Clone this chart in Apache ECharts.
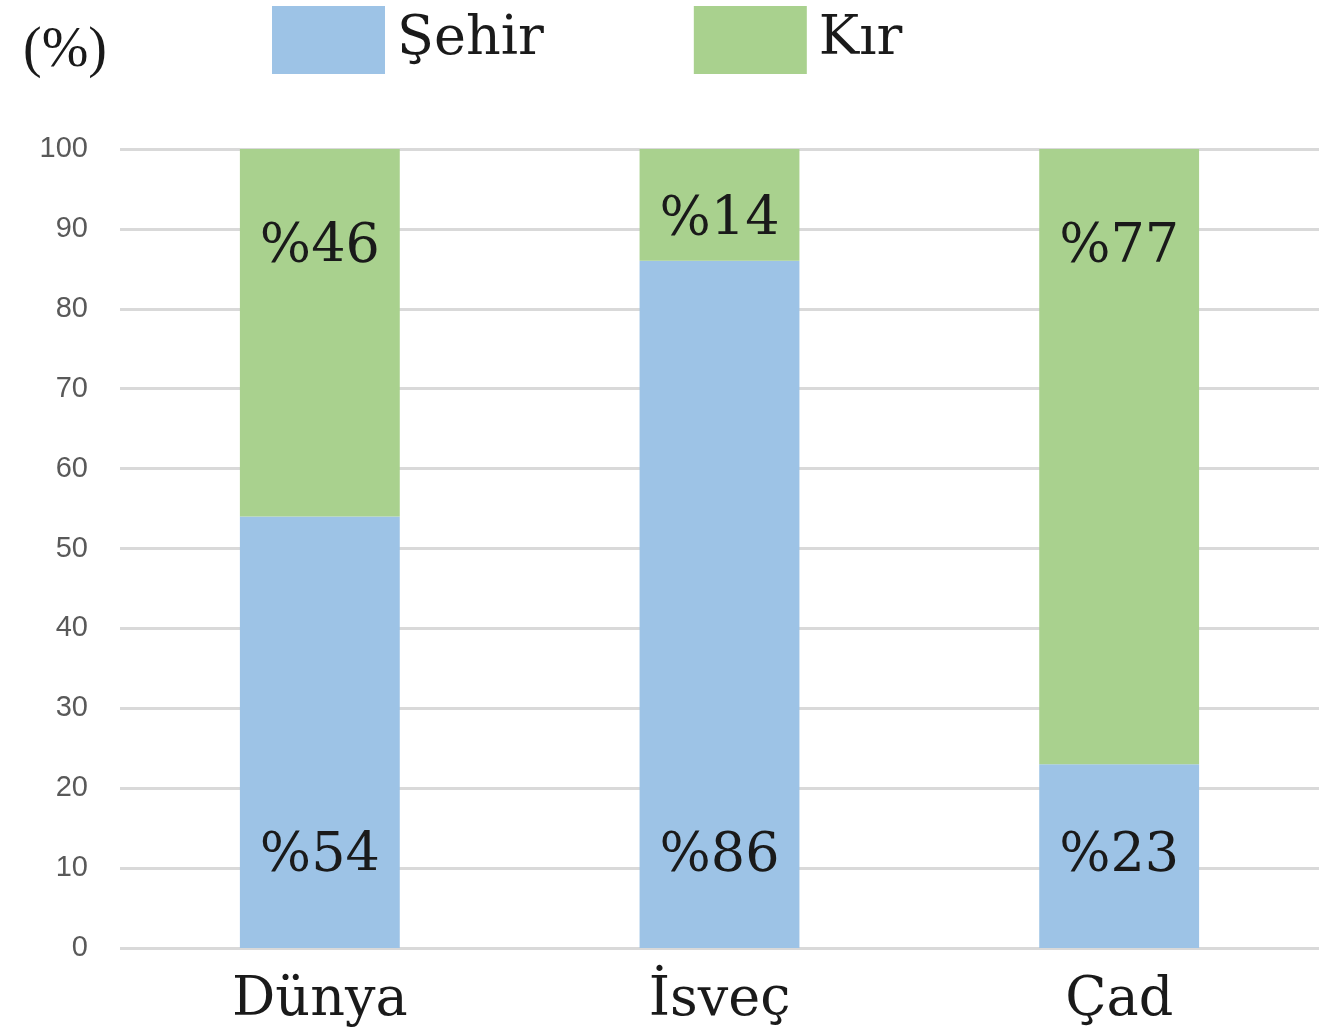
<!DOCTYPE html>
<html>
<head>
<meta charset="utf-8">
<script src="https://cdn.jsdelivr.net/npm/echarts@6/dist/echarts.min.js"></script>
<style>
    html,body{margin:0;padding:0;background:#fff;}
    #chart{width:1319px;height:1035px;}
</style>
</head>
<body>
<div id="chart"></div>
<script>
    // veriler
    var categories = ['Dünya', 'İsveç', 'Çad'];
    var sehir = [54, 86, 23];
    var kir = [46, 14, 77];
    var yTicks = [0, 10, 20, 30, 40, 50, 60, 70, 80, 90, 100];

    var serif = 'DejaVu Serif';
    var blue = '#9dc3e6', green = '#a9d18e';

    var chart = echarts.init(document.getElementById('chart'));

    // kır etiketleri: küçük dilimlerde ortala
    var kirData = kir.map(function(v){
        return {
            value: v,
            label: v < 20 ? {position: 'inside', offset: [0, 16]} : {position: 'insideTop', distance: 72}
        };
    });

    chart.setOption({
        animation: false,
        title: {
            text: '(%)',
            left: 18,
            top: 18,
            textStyle: {fontFamily: 'Liberation Serif', fontSize: 56, fontWeight: 'normal', color: '#1a1a1a'}
        },
        legend: {
            left: 267,
            top: 1,
            itemWidth: 113,
            itemHeight: 68,
            itemGap: 150,
            icon: 'rect',
            textStyle: {fontFamily: serif, fontSize: 54, color: '#1a1a1a', padding: [0, 0, 0, 7]},
            data: ['Şehir', 'Kır']
        },
        grid: {left: 120, right: 0, top: 149, bottom: 87, containLabel: false},
        xAxis: {
            type: 'category',
            data: categories,
            axisLine: {show: false},
            axisTick: {show: false},
            axisLabel: {fontFamily: serif, fontSize: 54, color: '#1a1a1a', margin: 26}
        },
        yAxis: {
            type: 'value',
            min: yTicks[0],
            max: yTicks[yTicks.length - 1],
            interval: 10,
            axisLine: {show: false},
            axisTick: {show: false},
            axisLabel: {fontFamily: 'Liberation Sans', fontSize: 29, color: '#595959', margin: 32},
            splitLine: {lineStyle: {color: '#d9d9d9', width: 3}}
        },
        series: [
            {
                name: 'Şehir',
                type: 'bar',
                stack: 'toplam',
                barWidth: '40%',
                itemStyle: {color: blue},
                label: {
                    show: true,
                    position: 'insideBottom',
                    distance: 64,
                    formatter: '%{c}',
                    fontFamily: serif,
                    fontSize: 54,
                    color: '#1a1a1a'
                },
                data: sehir
            },
            {
                name: 'Kır',
                type: 'bar',
                stack: 'toplam',
                barWidth: '40%',
                itemStyle: {color: green},
                label: {
                    show: true,
                    formatter: '%{c}',
                    fontFamily: serif,
                    fontSize: 54,
                    color: '#1a1a1a'
                },
                data: kirData
            }
        ]
    });
</script>
</body>
</html>
